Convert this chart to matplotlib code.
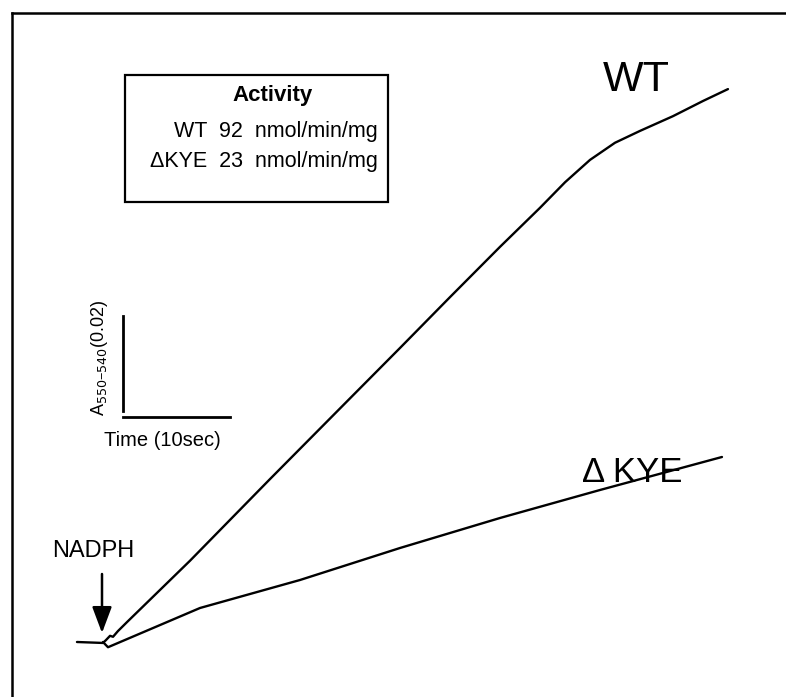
import matplotlib
matplotlib.use("Agg")
import matplotlib.pyplot as plt
from matplotlib.patches import Rectangle

plt.rcParams['font.family'] = ['Liberation Sans', 'DejaVu Sans']

# ---- data (time in s after NADPH addition, absorbance change) ----
wt_time = [-2.62, -0.19, 0.09, 0.47, 0.75, 1.21, 2.06, 7.94, 15.42, 22.90, 27.57,
           32.24, 36.92, 40.65, 43.00, 45.33, 47.66, 50.00, 53.08, 55.89, 58.22]
wt_abs = [0.0, -0.0002, 0.0004, 0.0013, 0.0011, 0.0023, 0.0042, 0.0171, 0.0343, 0.0513,
          0.0619, 0.0726, 0.0832, 0.0914, 0.0968, 0.1015, 0.1051, 0.1076, 0.1107, 0.1139, 0.1164]
kye_time = [-0.19, 0.28, 8.88, 18.22, 27.57, 36.92, 46.26, 57.66]
kye_abs = [0.0, -0.0011, 0.00716, 0.01305, 0.01979, 0.02611, 0.03200, 0.03895]

activity_title = "Activity"
activity_lines = ["WT  92  nmol/min/mg", "\u0394KYE  23  nmol/min/mg"]
curve_labels = ["WT", "\u0394 KYE"]
scale_time = 10.0    # s
scale_abs = 0.02     # absorbance

W, H = 786, 697
fig = plt.figure(figsize=(W / 100, H / 100), dpi=100)
ax = fig.add_axes([0, 0, 1, 1])
# pixel mapping: 1 s = 10.7 px, 0.001 A = 4.75 px, origin at (105, 642)
sx, sy = 10.7, 4750.0
x0, y0 = 105.0, 642.0
ax.set_xlim(-x0 / sx, (W - x0) / sx)
ax.set_ylim((y0 - H) / sy, y0 / sy)
ax.axis('off')

def P(x, y):
    return ((x - x0) / sx, (y0 - y) / sy)

ax.plot(wt_time, wt_abs, color='black', lw=1.7, solid_capstyle='round', solid_joinstyle='round')
ax.plot(kye_time, kye_abs, color='black', lw=1.7, solid_capstyle='round', solid_joinstyle='round')

# scale bars
bx, by = P(123, 417)
ax.plot([bx, bx], [by + 0.0013, by + 0.0013 + scale_abs], color='black', lw=2)
ax.plot([bx, bx + scale_time], [by, by], color='black', lw=2)
tx, ty = P(100, 358)
ax.text(tx, ty, r"A$_{550\mathregular{-}540}$(0.02)", rotation=90, ha='center', va='center',
        fontsize=13)
tx, ty = P(162, 440)
ax.text(tx, ty, "Time (10sec)", ha='center', va='center', fontsize=14.5)

# NADPH arrow
ax.annotate("", xy=P(102, 633), xytext=P(102, 574),
            arrowprops=dict(arrowstyle='-|>,head_length=1.6,head_width=0.6',
                            color='black', lw=1.8, shrinkA=0, shrinkB=0))
tx, ty = P(93, 551)
ax.text(tx, ty, "NADPH", ha='center', va='center', fontsize=17)

# curve labels
tx, ty = P(636, 80)
ax.text(tx, ty, curve_labels[0], ha='center', va='center', fontsize=31)
tx, ty = P(632, 472)
ax.text(tx, ty, curve_labels[1], ha='center', va='center', fontsize=25)

# activity box
fig.patches.append(Rectangle((125 / W, 1 - 202 / H), (388 - 125) / W, (202 - 75) / H,
                             transform=fig.transFigure, fill=False, ec='black', lw=1.6))
fig.text(273 / W, 1 - 96 / H, activity_title, ha='center', va='center', fontsize=16,
         fontweight='bold')
fig.text(378 / W, 1 - 131 / H, activity_lines[0], ha='right', va='center', fontsize=15.5)
fig.text(378 / W, 1 - 161 / H, activity_lines[1], ha='right', va='center', fontsize=15.5)

# outer frame (left and top only)
fig.lines.append(plt.Line2D([12 / W, 12 / W], [0, 1 - 13 / H], transform=fig.transFigure,
                            color='black', lw=1.8))
fig.lines.append(plt.Line2D([12 / W, 1], [1 - 13 / H, 1 - 13 / H], transform=fig.transFigure,
                            color='black', lw=1.8))

fig.savefig("out.png", dpi=100)
